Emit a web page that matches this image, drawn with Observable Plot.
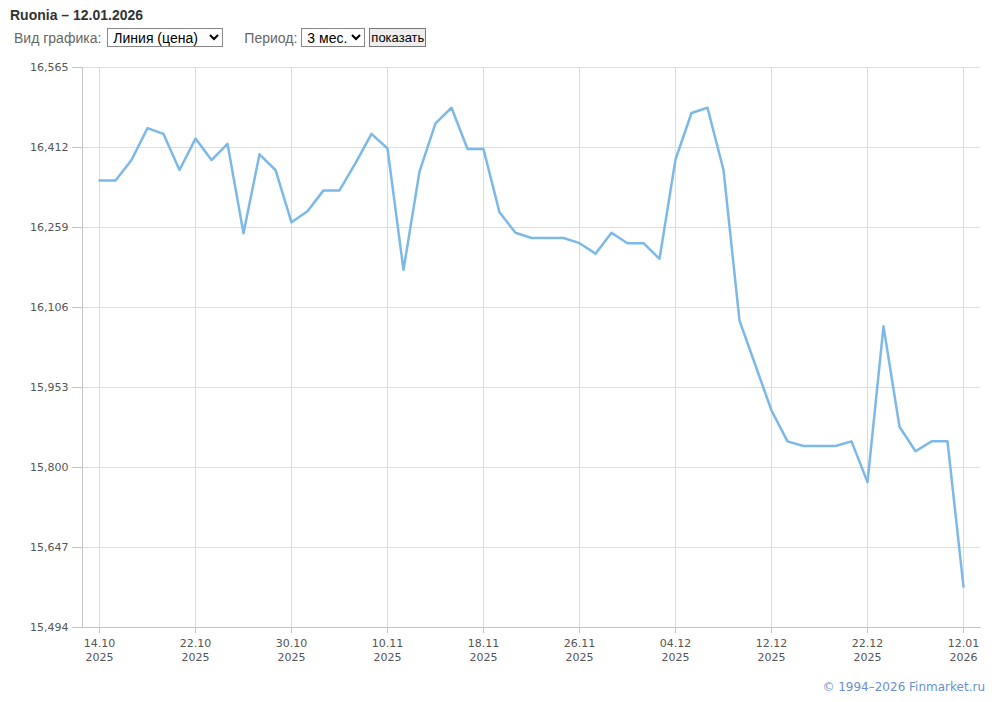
<!DOCTYPE html>
<html>
<head>
<meta charset="utf-8">
<script src="https://cdn.jsdelivr.net/npm/d3@7"></script>
<script src="https://cdn.jsdelivr.net/npm/@observablehq/plot@0.6"></script>
<style>
  body { margin: 0; background: #fff; font-family: "Liberation Sans", Arial, sans-serif; }
  #title { position: absolute; left: 10px; top: 7px; font-size: 14px; font-weight: bold; color: #333; }
  #controls { position: absolute; left: 14px; top: 28px; font-size: 14px; color: #666; display: flex; align-items: center; }
  #controls select { font-family: "Liberation Sans", Arial, sans-serif; font-size: 14px; color: #000; height: 19px; border: 1px solid #888; background: #fff; padding: 0 0 0 1px; margin: 0 4px; }
  #controls button { font-family: "Liberation Sans", Arial, sans-serif; font-size: 13px; height: 19px; padding: 0 1px; border: 1px solid #777; background: #eee; color: #000; margin-left: 0; }
  #chart { position: absolute; left: 0; top: 55px; }
  #footer { position: absolute; right: 15px; top: 680px; font-family: "DejaVu Sans", Verdana, sans-serif; font-size: 12px; color: #6b8fd0; }
</style>
</head>
<body>
<div id="title">Ruonia – 12.01.2026</div>
<div id="controls">
  <span>Вид графика:</span>
  <select style="width:116px; margin-left:6px"><option>Линия (цена)</option></select>
  <span style="margin-left:17px">Период:</span>
  <select style="width:64px"><option>3 мес.</option></select>
  <button>показать</button>
</div>
<div id="chart"></div>
<div id="footer">© 1994–2026 Finmarket.ru</div>
<script>
const dates = [
  "14.10.2025","15.10.2025","16.10.2025","17.10.2025","20.10.2025","21.10.2025","22.10.2025",
  "23.10.2025","24.10.2025","27.10.2025","28.10.2025","29.10.2025","30.10.2025",
  "31.10.2025","01.11.2025","05.11.2025","06.11.2025","07.11.2025","10.11.2025",
  "11.11.2025","12.11.2025","13.11.2025","14.11.2025","17.11.2025","18.11.2025",
  "19.11.2025","20.11.2025","21.11.2025","24.11.2025","25.11.2025","26.11.2025",
  "27.11.2025","28.11.2025","01.12.2025","02.12.2025","03.12.2025","04.12.2025",
  "05.12.2025","08.12.2025","09.12.2025","10.12.2025","11.12.2025","12.12.2025",
  "15.12.2025","16.12.2025","17.12.2025","18.12.2025","19.12.2025","22.12.2025",
  "23.12.2025","24.12.2025","25.12.2025","26.12.2025","29.12.2025","12.01.2026"
];
const values = [
  16.349, 16.349, 16.388, 16.449, 16.438, 16.369, 16.429,
  16.388, 16.419, 16.248, 16.399, 16.369, 16.269,
  16.290, 16.330, 16.330, 16.382, 16.438, 16.410,
  16.178, 16.366, 16.458, 16.488, 16.409, 16.409,
  16.288, 16.249, 16.239, 16.239, 16.239, 16.229,
  16.209, 16.249, 16.229, 16.229, 16.199, 16.389,
  16.478, 16.488, 16.369, 16.081, 15.995, 15.909,
  15.850, 15.841, 15.841, 15.841, 15.850, 15.772,
  16.070, 15.878, 15.831, 15.850, 15.850, 15.572
];
const yTicks = [15.494, 15.647, 15.800, 15.953, 16.106, 16.259, 16.412, 16.565];
const xTicks = ["14.10.2025","22.10.2025","30.10.2025","10.11.2025","18.11.2025","26.11.2025","04.12.2025","12.12.2025","22.12.2025","12.01.2026"];

const data = dates.map((d, i) => ({date: d, value: values[i]}));
const fmtY = v => v.toFixed(3).replace(".", ",");
const fmtX = d => d.slice(0, 5) + "\n" + d.slice(6);

const chart = Plot.plot({
  width: 1000,
  height: 612,
  marginTop: 12,
  marginLeft: 82,
  marginRight: 20,
  marginBottom: 40,
  style: {fontFamily: "'DejaVu Sans', Verdana, sans-serif", fontSize: "11px", color: "#555", background: "#fff"},
  x: {type: "point", domain: dates, padding: 0.95, ticks: xTicks, label: null},
  y: {domain: [15.494, 16.565], ticks: yTicks, label: null},
  marks: [
    Plot.gridY(yTicks, {stroke: "#dedede", strokeOpacity: 1}),
    Plot.gridX(xTicks, {stroke: "#dcdcdc", strokeOpacity: 1}),
    Plot.axisY(yTicks, {tickSize: 10, tickPadding: 4, tickFormat: fmtY, stroke: "#c4c4c4", fill: "#555", label: null}),
    Plot.axisX(xTicks, {tickSize: 6, tickPadding: 3, tickFormat: fmtX, stroke: "#c4c4c4", fill: "#555", lineHeight: 1.3, label: null}),
    Plot.frame({anchor: "left", stroke: "#c4c4c4"}),
    Plot.frame({anchor: "bottom", stroke: "#c4c4c4"}),
    Plot.lineY(data, {x: "date", y: "value", stroke: "#7cb9e8", strokeWidth: 2.5})
  ]
});
document.getElementById("chart").appendChild(chart);
</script>
</body>
</html>
